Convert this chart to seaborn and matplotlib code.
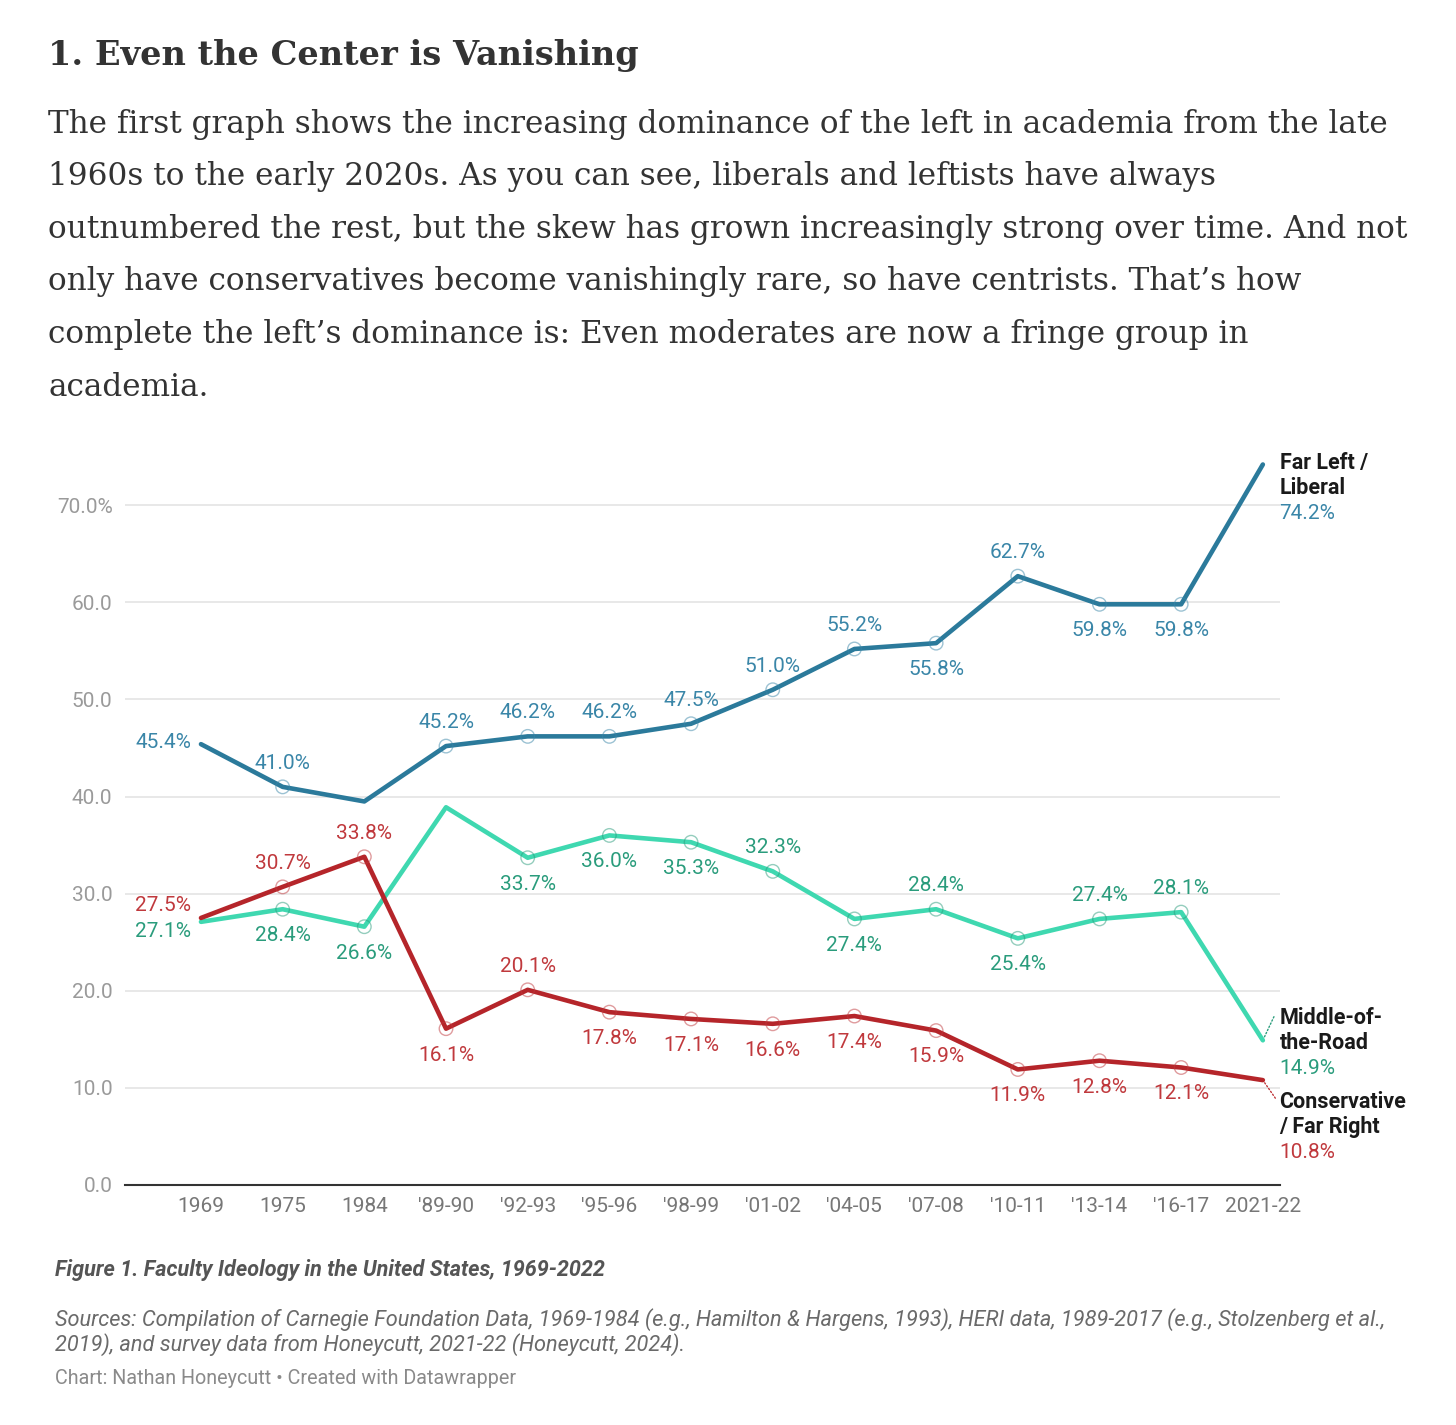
import pandas as pd
import matplotlib.pyplot as plt
import seaborn as sns

# Dados
periods = ["1969", "1975", "1984", "'89-90", "'92-93", "'95-96", "'98-99",
           "'01-02", "'04-05", "'07-08", "'10-11", "'13-14", "'16-17", "2021-22"]
liberal = [45.4, 41.0, 39.5, 45.2, 46.2, 46.2, 47.5, 51.0, 55.2, 55.8, 62.7, 59.8, 59.8, 74.2]
middle = [27.1, 28.4, 26.6, 38.9, 33.7, 36.0, 35.3, 32.3, 27.4, 28.4, 25.4, 27.4, 28.1, 14.9]
conservative = [27.5, 30.7, 33.8, 16.1, 20.1, 17.8, 17.1, 16.6, 17.4, 15.9, 11.9, 12.8, 12.1, 10.8]

series_names = ["Far Left / Liberal", "Middle-of-the-Road", "Conservative / Far Right"]

# onde vai cada rótulo: "u" acima, "d" abaixo, "l" à esquerda, None sem rótulo
lib_side = ["l", "u", None, "u", "u", "u", "u", "u", "u", "d", "u", "d", "d", None]
mid_side = ["l", "d", "d", None, "d", "d", "d", "u", "d", "u", "d", "u", "u", None]
con_side = ["l", "u", "u", "d", "u", "d", "d", "d", "d", "d", "d", "d", "d", None]

line_colors = {"Far Left / Liberal": "#2b7a9b",
               "Middle-of-the-Road": "#3fd8b0",
               "Conservative / Far Right": "#b5252a"}
text_colors = {"Far Left / Liberal": "#3a86a8",
               "Middle-of-the-Road": "#2a9c7c",
               "Conservative / Far Right": "#c0393d"}

rows = []
for name, vals in zip(series_names, [liberal, middle, conservative]):
    for i, v in enumerate(vals):
        rows.append({"idx": i, "periodo": periods[i], "valor": v, "serie": name})
df = pd.DataFrame(rows)

sides = {"Far Left / Liberal": lib_side,
         "Middle-of-the-Road": mid_side,
         "Conservative / Far Right": con_side}
df["lado"] = [sides[s][i] for s, i in zip(df["serie"], df["idx"])]

sns.set_style("white")
plt.rcParams["font.family"] = ["Roboto", "DejaVu Sans"]

W, H = 1456, 1425
fig = plt.figure(figsize=(W / 100, H / 100), dpi=100)
ax = fig.add_axes([125 / W, 1 - 1185 / H, (1280 - 125) / W, (1185 - 447) / H])

# Linhas
sns.lineplot(data=df, x="idx", y="valor", hue="serie", palette=line_colors,
             linewidth=3.3, legend=False, ax=ax, zorder=3)

# Marcadores vazados nos pontos rotulados (exceto pontas)
mk = df[df["lado"].isin(["u", "d"])]
for name in series_names:
    sub = mk[mk["serie"] == name]
    ax.scatter(sub["idx"], sub["valor"], s=95, facecolors="none",
               edgecolors=text_colors[name], linewidths=1.0, alpha=0.5, zorder=4)

# Rótulos de valores
for _, r in df.iterrows():
    if r["lado"] is None:
        continue
    c = text_colors[r["serie"]]
    txt = f"{r['valor']:.1f}%"
    if r["lado"] == "u":
        off, ha = (0, 17), "center"
    elif r["lado"] == "d":
        off, ha = (0, -19), "center"
    else:
        dy = {"Far Left / Liberal": 1, "Middle-of-the-Road": -7,
              "Conservative / Far Right": 9}[r["serie"]]
        off, ha = (-7, dy), "right"
    ax.annotate(txt, (r["idx"], r["valor"]), xytext=off, textcoords="offset points",
                ha=ha, va="center", fontsize=15, color=c, zorder=5)

# Rótulos finais
end_labels = {"Far Left / Liberal": (["Far Left /", "Liberal"], 1, None),
              "Middle-of-the-Road": (["Middle-of-", "the-Road"], 16, (8, 17)),
              "Conservative / Far Right": (["Conservative", "/ Far Right"], -16, (9, -13))}
last = len(periods) - 1
for name, vals in zip(series_names, [liberal, middle, conservative]):
    lines, top, conn = end_labels[name]
    v = vals[last]
    for k, ln in enumerate(lines):
        ax.annotate(ln, (last, v), xytext=(12, top - 18 * k), textcoords="offset points",
                    ha="left", va="center", fontsize=15.5, fontweight="bold",
                    color="#1a1a1a", annotation_clip=False)
    ax.annotate(f"{v:.1f}%", (last, v), xytext=(12, top - 36), textcoords="offset points",
                ha="left", va="center", fontsize=15, color=text_colors[name],
                annotation_clip=False)
    if conn is not None:
        ax.annotate("", (last, v), xytext=conn, textcoords="offset points",
                    arrowprops=dict(arrowstyle="-", linestyle=(0, (1, 1.5)),
                                    color=text_colors[name], lw=1.0,
                                    shrinkA=0, shrinkB=2))

# Eixos
ax.set_xlim(-0.93, 13.21)
ax.set_ylim(0, 76)
ax.set_xticks(range(len(periods)))
ax.set_xticklabels(periods)
yt = [0, 10, 20, 30, 40, 50, 60, 70]
ax.set_yticks(yt)
ax.set_yticklabels([f"{t:.1f}%" if t == 70 else f"{t:.1f}" for t in yt])
ax.tick_params(axis="both", length=0, labelsize=15)
ax.tick_params(axis="y", pad=9, labelcolor="#9a9a9a")
ax.tick_params(axis="x", pad=9, labelcolor="#777777")
ax.grid(axis="y", color="#e4e4e4", linewidth=1.2)
ax.grid(axis="x", visible=False)
for s in ["top", "right", "left"]:
    ax.spines[s].set_visible(False)
ax.spines["bottom"].set_color("#333333")
ax.spines["bottom"].set_linewidth(1.5)
ax.set_xlabel("")
ax.set_ylabel("")

# Texto do artigo
serif = ["DejaVu Serif"]
fig.text(48 / W, 1 - 55 / H, "1. Even the Center is Vanishing", family=serif,
         fontsize=24.2, fontweight="bold", color="#333333", va="center", ha="left")
para = ["The first graph shows the increasing dominance of the left in academia from the late",
        "1960s to the early 2020s. As you can see, liberals and leftists have always",
        "outnumbered the rest, but the skew has grown increasingly strong over time. And not",
        "only have conservatives become vanishingly rare, so have centrists. That\u2019s how",
        "complete the left\u2019s dominance is: Even moderates are now a fringe group in",
        "academia."]
for k, ln in enumerate(para):
    fig.text(48 / W, 1 - (124 + 52.6 * k) / H, ln, family=serif, fontsize=22.4,
             color="#333333", va="center", ha="left")

# Rodapé
fig.text(55 / W, 1 - 1270 / H, "Figure 1. Faculty Ideology in the United States, 1969-2022",
         fontsize=15.6, fontweight="bold", fontstyle="italic", color="#555555", va="center")
fig.text(55 / W, 1 - 1320 / H,
         "Sources: Compilation of Carnegie Foundation Data, 1969-1984 (e.g., Hamilton & Hargens, 1993), HERI data, 1989-2017 (e.g., Stolzenberg et al.,",
         fontsize=15.7, fontstyle="italic", color="#6a6a6a", va="center")
fig.text(55 / W, 1 - 1345 / H,
         "2019), and survey data from Honeycutt, 2021-22 (Honeycutt, 2024).",
         fontsize=15.7, fontstyle="italic", color="#6a6a6a", va="center")
fig.text(55 / W, 1 - 1378 / H, "Chart: Nathan Honeycutt \u2022 Created with Datawrapper",
         fontsize=14.2, color="#8a8a8a", va="center")

fig.savefig("out.png", dpi=100, facecolor="white")
